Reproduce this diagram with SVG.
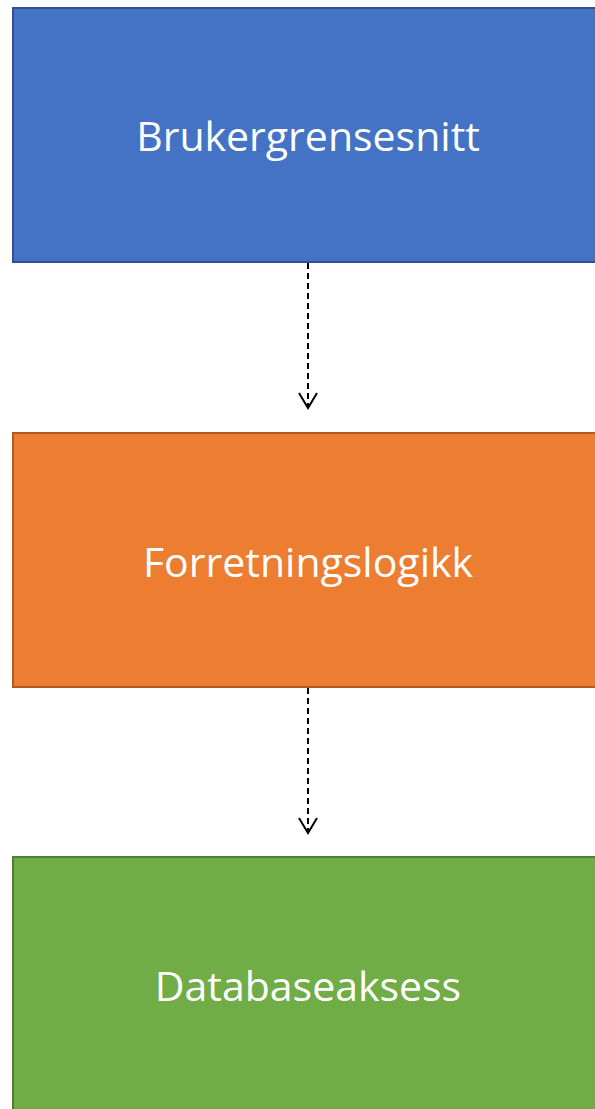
<svg xmlns="http://www.w3.org/2000/svg" width="595" height="1109" viewBox="0 0 595 1109">
<style>
.box{stroke-width:2}
.lbl{font-family:"Open Sans","Liberation Sans",sans-serif;font-size:41px;fill:#fff;text-anchor:middle}
.conn{stroke:#000;stroke-width:2;fill:none}
.dash{stroke-dasharray:6 4}
</style>
<rect width="595" height="1109" fill="#fff"/>
<g id="node-ui">
<rect class="box" x="13" y="8" width="594" height="254" fill="#4472C4" stroke="#2F528F"/>
<text class="lbl" x="308" y="151">Brukergrensesnitt</text>
</g>
<g id="node-logic">
<rect class="box" x="13" y="433" width="594" height="254" fill="#ED7D31" stroke="#AE5A21"/>
<text class="lbl" x="308" y="577">Forretningslogikk</text>
</g>
<g id="node-db">
<rect class="box" x="13" y="857" width="594" height="260" fill="#70AD47" stroke="#507E32"/>
<text class="lbl" x="308" y="1001">Databaseaksess</text>
</g>
<g id="connectors">
<line class="conn dash" x1="308" y1="263" x2="308" y2="407"/>
<polyline class="conn" points="299,393 308,408 317,393"/>
<line class="conn dash" x1="308" y1="688" x2="308" y2="832"/>
<polyline class="conn" points="299,818 308,833 317,818"/>
</g>
</svg>
